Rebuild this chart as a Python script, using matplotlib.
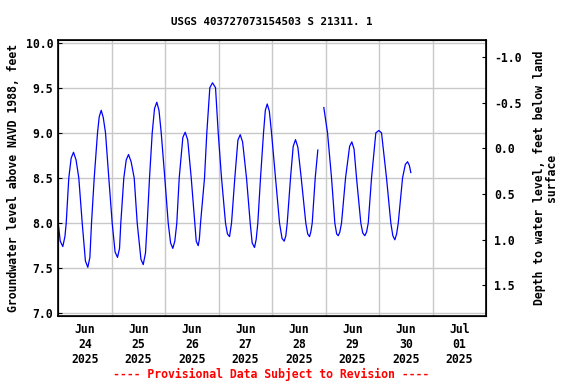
import numpy as np
import pandas as pd
import matplotlib
matplotlib.use("Agg")
import matplotlib.pyplot as plt
import matplotlib.dates as mdates
from matplotlib.ticker import FixedLocator, FormatStrFormatter

plt.rcParams['font.family'] = ['DejaVu Sans Mono']
plt.rcParams['font.weight'] = 'bold'
plt.rcParams['axes.titleweight'] = 'bold'
plt.rcParams['axes.labelweight'] = 'bold'
plt.rcParams['axes.unicode_minus'] = False

start = pd.Timestamp("2025-06-24 00:00")

# hours since Jun 24 00:00 and water level (ft above NAVD 1988)
hours_a = [0.0, 1.0, 2.15, 3.1, 3.68, 4.84, 5.9, 6.95, 8.1, 9.33, 10.86, 12.3, 13.37, 14.3,
           15.03, 16.24, 17.72, 18.5, 19.38, 20.3, 21.31, 22.79, 24.31, 25.6, 26.69, 27.6,
           28.17, 29.52, 30.6, 31.63, 32.8, 34.18, 35.53, 37.2, 38.22, 39.25, 40.02, 41.05,
           42.26, 43.3, 44.32, 45.3, 46.3, 47.91, 49.44, 50.5, 51.5, 52.4, 53.29, 54.37,
           56.0, 57.06, 58.2, 59.76, 61.37, 62.0, 62.89, 63.4, 63.93, 65.72, 66.75, 68.1,
           69.31, 70.66, 71.87, 73.35, 75.14, 76.0, 76.94, 77.84, 79.31, 80.7, 81.74, 82.8,
           84.56, 86.22, 87.1, 88.15, 88.9, 89.63, 90.84, 92.19, 93.0, 93.85, 94.8, 95.78,
           97.57, 99.37, 100.5, 101.47, 102.2, 102.82, 104.3, 105.5, 106.54, 107.6, 109.1,
           111.16, 112.0, 112.82, 113.4, 114.03, 115.38, 116.55]
level_a = [8.02, 7.80, 7.74, 7.85, 8.0, 8.5, 8.72, 8.785, 8.70, 8.5, 8.0, 7.58, 7.51, 7.62,
           8.0, 8.5, 9.0, 9.18, 9.25, 9.17, 9.0, 8.5, 8.0, 7.68, 7.62, 7.72,
           8.0, 8.5, 8.70, 8.76, 8.68, 8.5, 8.0, 7.60, 7.54, 7.67, 8.0, 8.5,
           9.0, 9.27, 9.34, 9.25, 9.0, 8.5, 8.0, 7.78, 7.72, 7.80, 8.0, 8.5,
           8.95, 9.007, 8.92, 8.5, 8.0, 7.80, 7.75, 7.82, 8.0, 8.5, 9.0, 9.5,
           9.555, 9.5, 9.0, 8.5, 8.0, 7.88, 7.85, 8.0, 8.5, 8.92, 8.98, 8.90,
           8.5, 8.0, 7.78, 7.73, 7.82, 8.0, 8.5, 9.0, 9.25, 9.32, 9.24, 9.0,
           8.5, 8.0, 7.83, 7.80, 7.86, 8.0, 8.5, 8.85, 8.925, 8.84, 8.5,
           8.0, 7.88, 7.85, 7.90, 8.0, 8.5, 8.81]

hours_b = [119.24, 120.9, 122.7, 124.18, 125.0, 125.7, 126.4, 127.18, 128.98, 130.8, 131.8,
           132.8, 133.91, 135.84, 136.7, 137.63, 138.4, 139.16, 140.64, 142.57, 143.91,
           145.12, 147.36, 149.3, 150.2, 151.09, 151.9, 152.62, 154.55, 155.8, 156.79,
           157.6, 158.27]
level_b = [9.28, 9.0, 8.5, 8.0, 7.88, 7.86, 7.90, 8.0, 8.5, 8.85, 8.90,
           8.82, 8.5, 8.0, 7.89, 7.86, 7.90, 8.0, 8.5, 9.0, 9.026,
           9.0, 8.5, 8.0, 7.86, 7.815, 7.88, 8.0, 8.5, 8.65, 8.68,
           8.64, 8.56]

left_ticks = [7.0, 7.5, 8.0, 8.5, 9.0, 9.5, 10.0]
right_ticks = [-1.0, -0.5, 0.0, 0.5, 1.0, 1.5]

fig = plt.figure(figsize=(5.76, 3.84), dpi=100)
ax = fig.add_axes([0.1007, 0.177, 0.7431, 0.719])

t_a = start + pd.to_timedelta(hours_a, unit='h')
t_b = start + pd.to_timedelta(hours_b, unit='h')
ax.plot(t_a, level_a, color='blue', lw=0.9)
ax.plot(t_b, level_b, color='blue', lw=0.9)

ax.set_xlim(start, start + pd.Timedelta(days=8))
ax.set_ylim(6.97, 10.03)
ax.set_yticks(left_ticks)
ax.yaxis.set_major_formatter(FormatStrFormatter('%.1f'))

ax.xaxis.set_major_locator(mdates.DayLocator())
ax.xaxis.set_major_formatter(plt.NullFormatter())
ax.xaxis.set_minor_locator(mdates.HourLocator(byhour=12))
ax.xaxis.set_minor_formatter(mdates.DateFormatter('%b\n%d\n%Y'))
ax.tick_params(axis='x', which='minor', length=0, labelsize=8.3, pad=5)
ax.tick_params(axis='x', which='major', length=0)
ax.tick_params(axis='y', direction='in', length=3, labelsize=8.3)

ax.grid(True, which='major', color='#c8c8c8', lw=1)
for s in ax.spines.values():
    s.set_linewidth(1.2)

ax.set_ylabel('Groundwater level above NAVD 1988, feet', fontsize=8.3, labelpad=4)
ax.set_title('USGS 403727073154503 S 21311. 1', fontsize=7.8, pad=11)

ax2 = ax.twinx()
ax2.set_ylim(1.835, -1.185)
ax2.yaxis.set_major_locator(FixedLocator(right_ticks))
ax2.yaxis.set_major_formatter(FormatStrFormatter('%.1f'))
ax2.tick_params(axis='y', direction='in', length=3, labelsize=8.3, pad=6)
ax2.set_ylabel('Depth to water level, feet below land\nsurface', fontsize=8.3,
               labelpad=8, linespacing=0.9)

fig.text(0.4705, 0.024, '---- Provisional Data Subject to Revision ----', color='red',
         fontsize=8.3, ha='center', va='center')

fig.savefig('out.png', dpi=100)
